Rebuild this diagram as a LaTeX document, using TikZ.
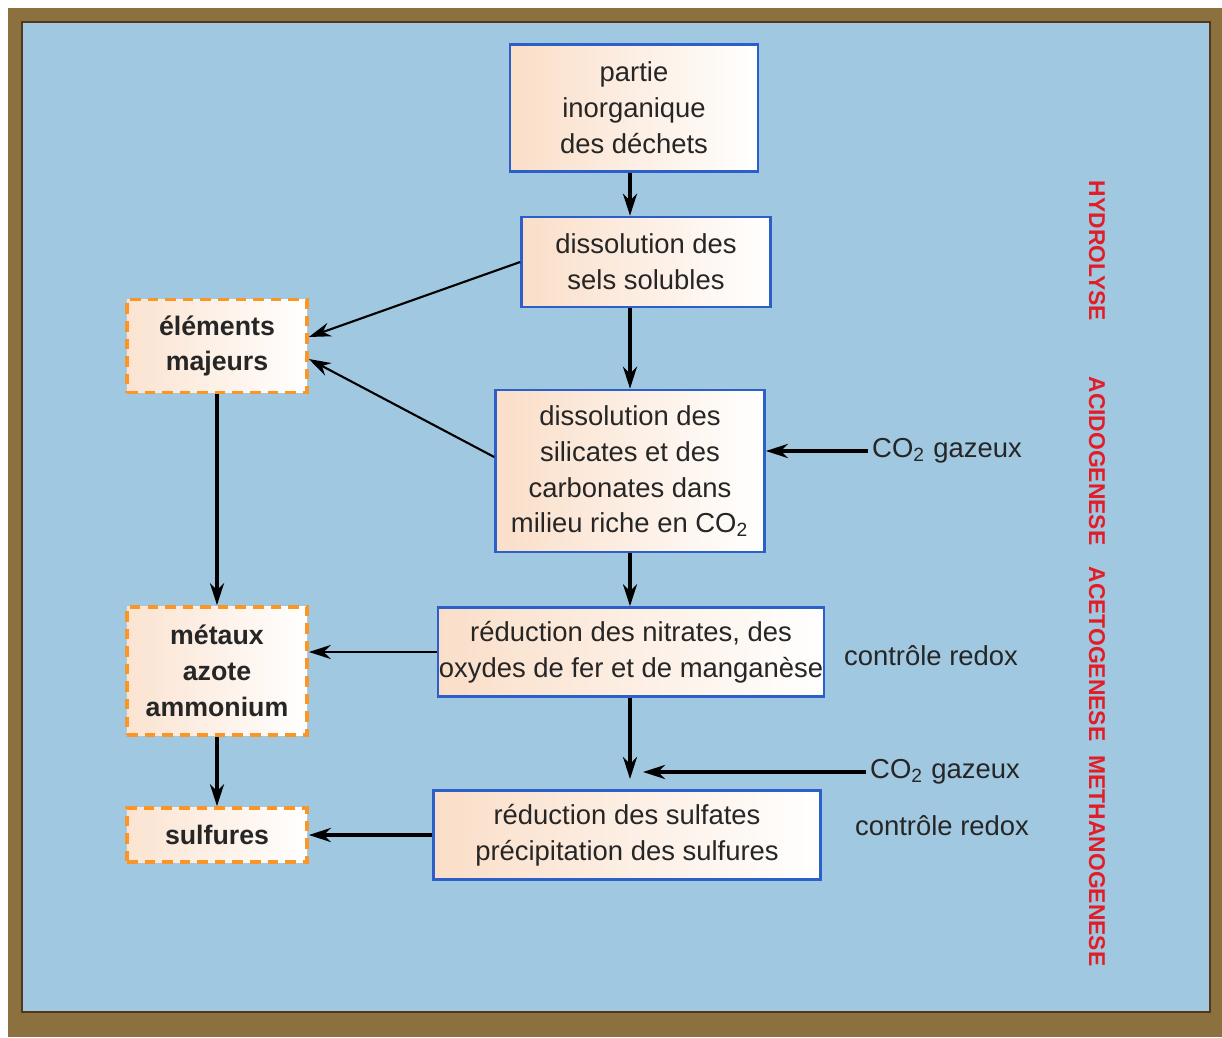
\documentclass[tikz,border=0pt]{standalone}
\usepackage{fontspec}
\setmainfont{Liberation Sans}
\usetikzlibrary{arrows.meta, positioning, calc}
\definecolor{fondbleu}{RGB}{160, 200, 224}
\definecolor{cadre}{RGB}{140, 112, 62}
\definecolor{cadrefonce}{RGB}{80, 55, 30}
\definecolor{peche}{RGB}{250, 222, 200}
\definecolor{bordbleu}{RGB}{45, 95, 200}
\definecolor{orangebord}{RGB}{250, 150, 40}
\definecolor{rougephase}{RGB}{225, 30, 40}

\begin{document}
\begin{tikzpicture}[
  x=0.01cm, y=-0.01cm,
  etape/.style={rectangle, draw=bordbleu, line width=0.7pt, left color=peche, right color=white, inner sep=0pt, align=center, font=\fontsize{7.8}{10.2}\selectfont, text=black!85},
  produit/.style={rectangle, draw=orangebord, line width=1pt, densely dashed, left color=peche!85, right color=white, inner sep=0pt, align=center, minimum width=1.8cm, font=\fontsize{7.6}{10.2}\selectfont\bfseries, text=black!85},
  phase/.style={rotate=-90, font=\fontsize{6.5}{7}\selectfont\bfseries, text=rougephase},
  lbl/.style={font=\fontsize{7.8}{10}\selectfont, text=black!85, inner sep=1pt},
  fort/.style={-{Stealth[length=2.2mm, width=1.4mm]}, line width=1.1pt},
  fin/.style={-{Stealth[length=2.2mm, width=1.4mm]}, line width=0.6pt}
]
  \useasboundingbox (0,0) rectangle (1222,1037);
  % cadre
  \fill[cadre] (8,8) rectangle (1222,1037);
  \fill[fondbleu] (22,22) rectangle (1210,1012);
  \draw[cadrefonce, line width=0.8pt] (22,22) rectangle (1210,1012);

  % etapes
  \node[etape, minimum width=2.48cm, minimum height=1.27cm] (part) at (634,108) {partie\\inorganique\\des déchets};
  \node[etape, minimum width=2.49cm, minimum height=0.90cm] (sels) at (646,262) {dissolution des\\sels solubles};
  \node[etape, minimum width=2.69cm, minimum height=1.62cm] (sil) at (630,471) {dissolution des\\silicates et des\\carbonates dans\\milieu riche en CO\textsubscript{2}};
  \node[etape, minimum width=3.86cm, minimum height=0.89cm] (nit) at (631,652) {réduction des nitrates, des\\oxydes de fer et de manganèse};
  \node[etape, minimum width=3.87cm, minimum height=0.89cm] (sulf) at (627,835) {réduction des sulfates\\précipitation des sulfures};

  % produits
  \node[produit, minimum height=0.93cm] (elem) at (217,346) {éléments\\majeurs};
  \node[produit, minimum height=1.28cm] (met) at (217,671) {métaux\\azote\\ammonium};
  \node[produit, minimum height=0.54cm] (sulfu) at (217,835) {sulfures};

  % entrees
  \node[lbl, anchor=west] (co2a) at (868,451) {CO\textsubscript{2} gazeux};
  \node[lbl, anchor=west] (co2b) at (866,772) {CO\textsubscript{2} gazeux};
  \node[lbl] (redoxa) at (931,656) {contrôle redox};
  \node[lbl] (redoxb) at (942,826) {contrôle redox};
  \coordinate (jonc) at (630,779);
  \coordinate (joncd) at (643,772);

  % phases
  \node[phase] (hydro) at (1097,251) {HYDROLYSE};
  \node[phase] (acido) at (1097,461) {ACIDOGENESE};
  \node[phase] (aceto) at (1097,654) {ACETOGENESE};
  \node[phase] (metha) at (1097,861) {METHANOGENESE};

  \draw[fort] (part.south -| sil.north) -- (sil.north |- sels.north);
  \draw[fort] (sels.south -| sil.north) -- (sil.north);
  \draw[fort] (sil.south) -- (sil.south |- nit.north);
  \draw[fort] (nit.south -| jonc) -- (jonc);
  \draw[fort] (co2b.west) -- (joncd);
  \draw[fort] (co2a.west) -- (co2a.west -| sil.east);
  \draw[fin] (sels.west) -- ([yshift=0.09cm]elem.east);
  \draw[fin] ([yshift=0.14cm]sil.west) -- ([yshift=-0.13cm]elem.east);
  \draw[fin] (nit.west) -- (nit.west -| met.east);
  \draw[fort] (elem.south) -- (met.north);
  \draw[fort] (met.south) -- (sulfu.north);
  \draw[fort] (sulf.west) -- (sulfu.east);
\end{tikzpicture}
\end{document}
